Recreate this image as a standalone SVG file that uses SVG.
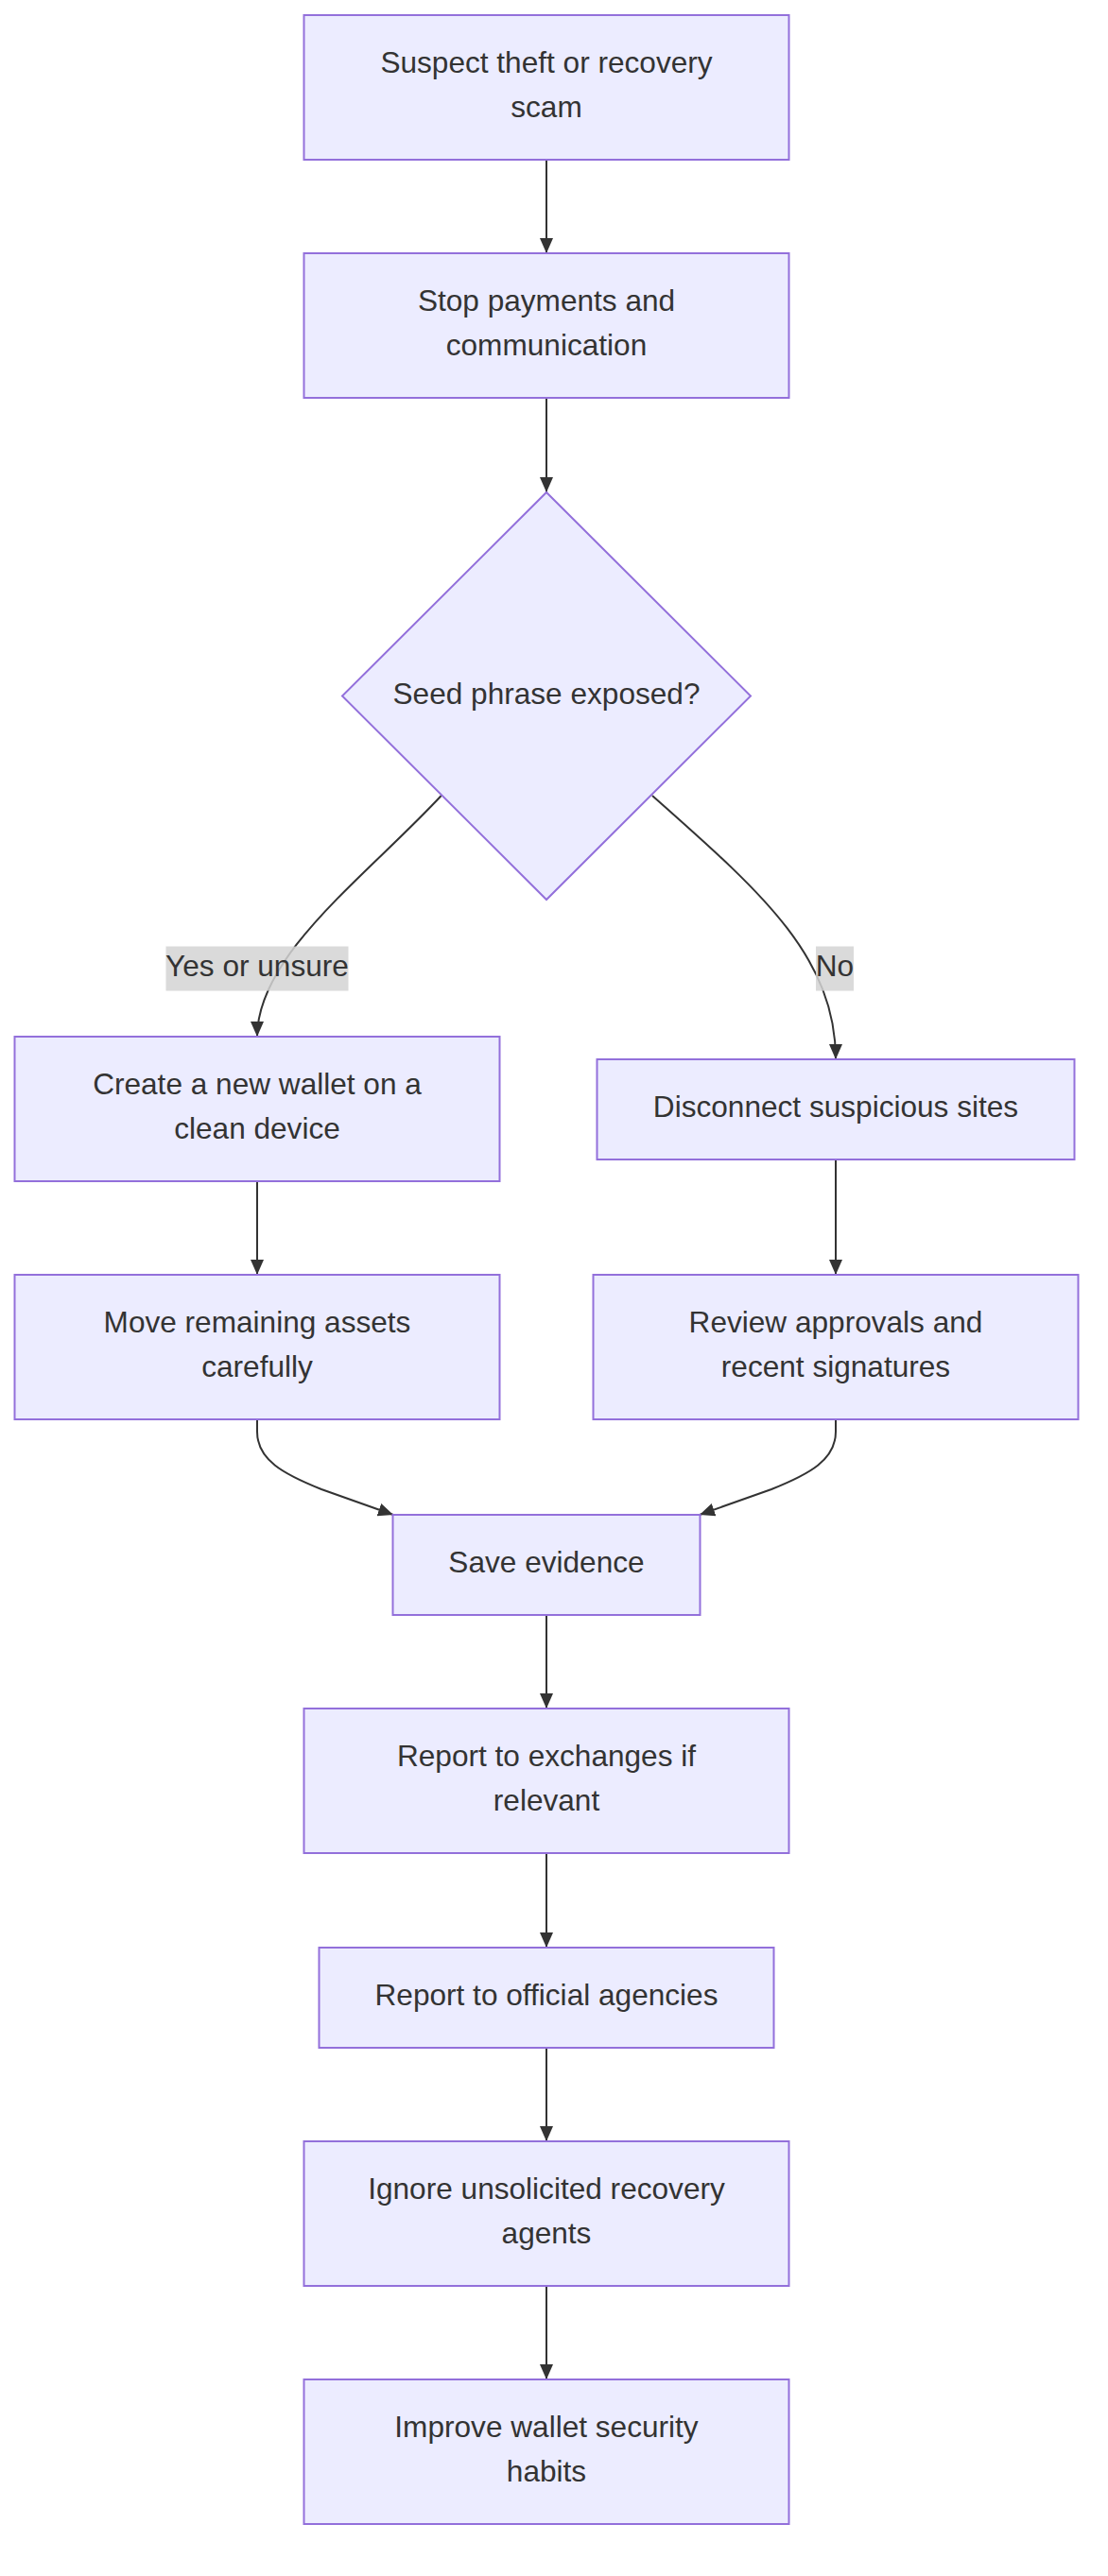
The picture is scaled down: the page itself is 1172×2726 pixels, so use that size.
<svg xmlns="http://www.w3.org/2000/svg" width="1172" height="2726" viewBox="0 0 1172 2726">
<style>
.node rect, .node polygon { fill: #ECECFF; stroke: #9370DB; stroke-width: 2; }
.node text, .lbl text { font-family: "Liberation Sans", Arial, sans-serif; font-size: 31.6px; fill: #333333; text-anchor: middle; }
.edges path { fill: none; stroke: #333333; stroke-width: 2; }
.lbl rect { fill: #d3d3d3; fill-opacity: 0.85; stroke: none; }
</style>
<defs>
<marker id="arrow" viewBox="0 0 16 14" refX="16" refY="7" markerWidth="16" markerHeight="14" markerUnits="userSpaceOnUse" orient="auto">
<path d="M0,0 L16,7 L0,14 Z" fill="#333333"/>
</marker>
</defs>
<rect width="1172" height="2726" fill="#ffffff"/>
<g id="edges" class="edges">
<path d="M578,169 L578,268" marker-end="url(#arrow)"/>
<path d="M578,421 L578,521" marker-end="url(#arrow)"/>
<path d="M466.7,842 C390,925 272,1010 272,1097" marker-end="url(#arrow)"/>
<path d="M690,842 C800,940 884,1010 884,1121" marker-end="url(#arrow)"/>
<path d="M272,1250 L272,1349" marker-end="url(#arrow)"/>
<path d="M884,1227 L884,1349" marker-end="url(#arrow)"/>
<path d="M272,1502 L272,1515 C272,1545 300,1560 340,1576 L416,1603" marker-end="url(#arrow)"/>
<path d="M884,1502 L884,1515 C884,1545 856,1560 816,1576 L740,1603" marker-end="url(#arrow)"/>
<path d="M578,1709 L578,1808" marker-end="url(#arrow)"/>
<path d="M578,1961 L578,2061" marker-end="url(#arrow)"/>
<path d="M578,2167 L578,2266" marker-end="url(#arrow)"/>
<path d="M578,2419 L578,2518" marker-end="url(#arrow)"/>
</g>
<g id="label-yes" class="lbl">
<rect x="175.5" y="1001.5" width="193" height="47"/>
<text x="272" y="1033">Yes or unsure</text>
</g>
<g id="label-no" class="lbl">
<rect x="863" y="1001.5" width="40" height="47"/>
<text x="883" y="1033">No</text>
</g>
<g id="A" class="node">
<rect x="321.5" y="16" width="513" height="153"/>
<text x="578" y="76.8">Suspect theft or recovery</text>
<text x="578" y="124.2">scam</text>
</g>
<g id="B" class="node">
<rect x="321.5" y="268" width="513" height="153"/>
<text x="578" y="328.8">Stop payments and</text>
<text x="578" y="376.2">communication</text>
</g>
<g id="C" class="node">
<polygon points="578,521 794,736.5 578,952 362,736.5"/>
<text x="578" y="744.5">Seed phrase exposed?</text>
</g>
<g id="D" class="node">
<rect x="15.5" y="1097" width="513" height="153"/>
<text x="272" y="1157.8">Create a new wallet on a</text>
<text x="272" y="1205.2">clean device</text>
</g>
<g id="E" class="node">
<rect x="631.5" y="1121" width="505" height="106"/>
<text x="884" y="1182">Disconnect suspicious sites</text>
</g>
<g id="F" class="node">
<rect x="15.5" y="1349" width="513" height="153"/>
<text x="272" y="1409.8">Move remaining assets</text>
<text x="272" y="1457.2">carefully</text>
</g>
<g id="G" class="node">
<rect x="627.5" y="1349" width="513" height="153"/>
<text x="884" y="1409.8">Review approvals and</text>
<text x="884" y="1457.2">recent signatures</text>
</g>
<g id="H" class="node">
<rect x="415.5" y="1603" width="325" height="106"/>
<text x="578" y="1664">Save evidence</text>
</g>
<g id="I" class="node">
<rect x="321.5" y="1808" width="513" height="153"/>
<text x="578" y="1868.8">Report to exchanges if</text>
<text x="578" y="1916.2">relevant</text>
</g>
<g id="J" class="node">
<rect x="337.5" y="2061" width="481" height="106"/>
<text x="578" y="2122">Report to official agencies</text>
</g>
<g id="K" class="node">
<rect x="321.5" y="2266" width="513" height="153"/>
<text x="578" y="2326.8">Ignore unsolicited recovery</text>
<text x="578" y="2374.2">agents</text>
</g>
<g id="L" class="node">
<rect x="321.5" y="2518" width="513" height="153"/>
<text x="578" y="2578.8">Improve wallet security</text>
<text x="578" y="2626.2">habits</text>
</g>
</svg>
